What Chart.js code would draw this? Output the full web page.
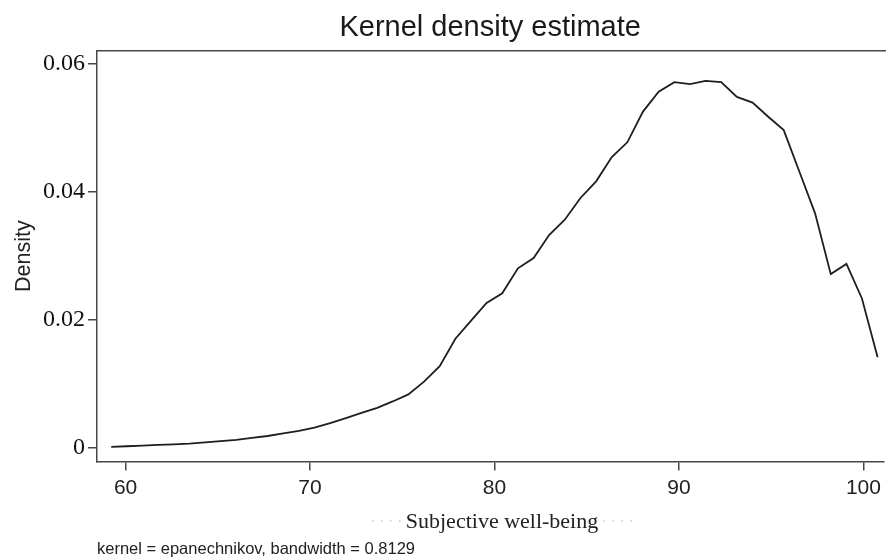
<!DOCTYPE html>
<html>
<head>
<meta charset="utf-8">
<script src="https://cdn.jsdelivr.net/npm/chart.js@4.4.1/dist/chart.umd.min.js"></script>
<style>
    html, body { margin: 0; padding: 0; background: #fff; }
    #wrap { width: 886px; height: 559px; }
</style>
</head>
<body>
<div id="wrap"><canvas id="canvasDensity" width="886" height="559"></canvas></div>
<script>
// evaluation points of the kernel density (Stata kdensity, 50 points)
const wellBeing = [
    59.22, 60.07, 60.92, 61.76, 62.61, 63.46, 64.31, 65.16, 66.00, 66.85,
    67.70, 68.55, 69.40, 70.24, 71.09, 71.94, 72.79, 73.64, 74.48, 75.33,
    76.18, 77.03, 77.88, 78.72, 79.57, 80.42, 81.27, 82.12, 82.96, 83.81,
    84.66, 85.51, 86.36, 87.20, 88.05, 88.90, 89.75, 90.60, 91.44, 92.29,
    93.14, 93.99, 94.84, 95.68, 96.53, 97.38, 98.23, 99.08, 99.92, 100.77
];
const density = [
    0.0001, 0.0002, 0.0003, 0.0004, 0.0005, 0.0006, 0.0008, 0.0010, 0.0012, 0.0015,
    0.0018, 0.0022, 0.0026, 0.0031, 0.0038, 0.0046, 0.0054, 0.0062, 0.0072, 0.0083,
    0.0103, 0.0127, 0.0170, 0.0198, 0.0226, 0.0241, 0.0280, 0.0296, 0.0332, 0.0356,
    0.0390, 0.0416, 0.0454, 0.0477, 0.0525, 0.0556, 0.0571, 0.0568, 0.0573, 0.0571,
    0.0548, 0.0539, 0.0517, 0.0496, 0.0431, 0.0366, 0.0271, 0.0287, 0.0233, 0.0141
];
const xTicks = [60, 70, 80, 90, 100];
const yTicks = [0, 0.02, 0.04, 0.06];

const titleText = 'Kernel density estimate';
const xTitleText = 'Subjective well-being';
const yTitleText = 'Density';
const noteText = 'kernel = epanechnikov, bandwidth = 0.8129';

const axisColor = '#474747';

/**
 * Top frame line and the x axis title with its faint dotted leaders.
 */
const framePlugin = {
    id: 'frame',
    afterDraw(chart) {
        const {ctx, chartArea} = chart;
        ctx.save();
        ctx.strokeStyle = axisColor;
        ctx.lineWidth = 1.5;
        ctx.beginPath();
        ctx.moveTo(chartArea.left, chartArea.top);
        ctx.lineTo(chart.width, chartArea.top);
        ctx.stroke();

        ctx.font = '22px "Liberation Serif", serif';
        ctx.fillStyle = '#222';
        ctx.textAlign = 'center';
        ctx.textBaseline = 'alphabetic';
        const cx = 502, by = 528;
        ctx.fillText(xTitleText, cx, by);
        const half = ctx.measureText(xTitleText).width / 2;
        ctx.fillStyle = '#cfcfcf';
        for (let i = 0; i < 4; i++) {
            ctx.beginPath();
            ctx.arc(cx - half - 6 - i * 9, by - 7, 0.9, 0, Math.PI * 2);
            ctx.fill();
            ctx.beginPath();
            ctx.arc(cx + half + 6 + i * 9, by - 7, 0.9, 0, Math.PI * 2);
            ctx.fill();
        }
        ctx.restore();
    }
};

const ctx = document.getElementById('canvasDensity').getContext('2d');

const chart = new Chart(ctx, {
    type: 'line',
    data: {
        datasets: [{
            label: yTitleText,
            data: wellBeing.map((x, i) => ({x: x, y: density[i]})),
            borderColor: '#1e1e1e',
            borderWidth: 1.8,
            pointRadius: 0,
            fill: false,
            tension: 0
        }]
    },
    options: {
        responsive: false,
        animation: false,
        layout: {padding: {left: 0, right: 0, top: 0, bottom: 0}},
        plugins: {
            legend: {display: false},
            tooltip: {enabled: false},
            title: {
                display: true,
                text: titleText,
                fullSize: false,
                color: '#1a1a1a',
                font: {family: '"Liberation Sans", Arial, sans-serif', size: 29, weight: 'normal'},
                padding: {top: 11, bottom: 5}
            },
            subtitle: {
                display: true,
                text: noteText,
                position: 'bottom',
                align: 'start',
                fullSize: false,
                color: '#222',
                font: {family: '"Liberation Sans", Arial, sans-serif', size: 16.5, weight: 'normal'},
                padding: {top: 0, bottom: 0}
            }
        },
        scales: {
            x: {
                type: 'linear',
                min: 58.45,
                max: 101.08,
                afterBuildTicks: scale => { scale.ticks = xTicks.map(v => ({value: v})); },
                afterFit: scale => { scale.height = 77.6; },
                grid: {drawOnChartArea: false, tickLength: 9, color: axisColor, lineWidth: 1.5},
                border: {display: true, color: axisColor, width: 1.5},
                ticks: {
                    color: '#222',
                    padding: 5,
                    maxRotation: 0,
                    font: {family: '"Liberation Sans Narrow", "Liberation Sans", sans-serif', size: 21},
                    callback: v => String(v)
                }
            },
            y: {
                min: -0.0022,
                max: 0.062,
                afterBuildTicks: scale => { scale.ticks = yTicks.map(v => ({value: v})); },
                afterFit: scale => { scale.width = 97; },
                grid: {drawOnChartArea: false, tickLength: 9, color: axisColor, lineWidth: 1.5},
                border: {display: true, color: axisColor, width: 1.5},
                title: {
                    display: true,
                    text: yTitleText,
                    color: '#222',
                    font: {family: '"Liberation Sans", Arial, sans-serif', size: 21.5},
                    padding: {top: 11, bottom: 0}
                },
                ticks: {
                    color: '#111',
                    padding: 3,
                    font: {family: '"Liberation Serif", serif', size: 24},
                    callback: v => String(v)
                }
            }
        }
    },
    plugins: [framePlugin]
});
</script>
</body>
</html>
